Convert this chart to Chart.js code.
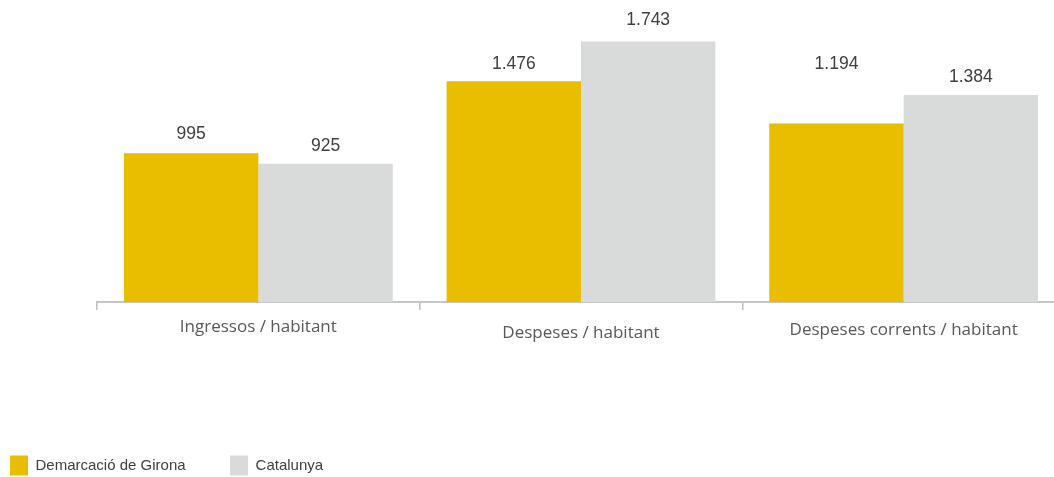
<!DOCTYPE html>
<html>
<head>
<meta charset="utf-8">
<script src="https://cdn.jsdelivr.net/npm/chart.js@4"></script>
<style>
  html, body { margin: 0; padding: 0; background: #ffffff; overflow: hidden; }
  #wrap { position: absolute; left: 0; top: 0; width: 1065px; height: 477px; }
</style>
</head>
<body>
<div id="wrap"><canvas id="c" width="1065" height="477"></canvas></div>
<script>
// ---- data ----
const categories = ["Ingressos / habitant", "Despeses / habitant", "Despeses corrents / habitant"];
const seriesNames = ["Demarcació de Girona", "Catalunya"];
const gironaValues = [995, 1476, 1194];
const catalunyaValues = [925, 1743, 1384];

// ---- styles ----
const colors = ["#E9BD00", "#D9DADA"];
const labelOffsets = [[19, 17.5, 59], [17.5, 21.5, 17.5]];
const tickLineHeights = [1.294, 2.0, 1.647];
const LEG_PAD = 44.5;

function fmt(v) {
  return String(v).replace(/\B(?=(\d{3})+(?!\d))/g, ".");
}

const valueLabels = {
  id: "valueLabels",
  afterDatasetsDraw(chart) {
    const ctx = chart.ctx;
    ctx.save();
    ctx.font = "17.5px 'Liberation Sans', Arial, sans-serif";
    ctx.fillStyle = "#404040";
    ctx.textAlign = "center";
    ctx.textBaseline = "middle";
    chart.data.datasets.forEach((ds, i) => {
      const meta = chart.getDatasetMeta(i);
      meta.data.forEach((el, j) => {
        ctx.fillText(fmt(ds.data[j]), el.x, el.y - labelOffsets[i][j]);
      });
    });
    ctx.restore();
  }
};

const legendPlace = {
  id: "legendPlace",
  afterLayout(chart) {
    const lg = chart.legend;
    if (lg) {
      lg.left = 10 - LEG_PAD;
      lg.top = 455.5 - LEG_PAD;
    }
  }
};

new Chart(document.getElementById("c"), {
  type: "bar",
  data: {
    labels: categories,
    datasets: [
      { label: seriesNames[0], data: gironaValues, backgroundColor: colors[0], borderWidth: 0 },
      { label: seriesNames[1], data: catalunyaValues, backgroundColor: colors[1], borderWidth: 0 }
    ]
  },
  options: {
    responsive: false,
    animation: false,
    devicePixelRatio: 1,
    layout: { padding: { top: 3, right: 0, bottom: 0, left: 0 } },
    datasets: { bar: { categoryPercentage: 0.833, barPercentage: 1.0 } },
    plugins: {
      tooltip: { enabled: false },
      legend: {
        position: "bottom",
        align: "start",
        maxHeight: 66,
        labels: {
          boxWidth: 18,
          boxHeight: 20,
          padding: LEG_PAD,
          color: "#404040",
          font: { family: "'Liberation Sans', Arial, sans-serif", size: 15 }
        }
      }
    },
    scales: {
      x: {
        grid: {
          display: true,
          offset: true,
          drawOnChartArea: false,
          drawTicks: true,
          tickLength: 8,
          color: "#BFBFBF",
          lineWidth: 1.5
        },
        border: { display: true, color: "#C6C6C6", width: 2 },
        ticks: {
          padding: 6,
          color: "#595959",
          maxRotation: 0,
          autoSkip: false,
          font: (ctx) => ({ family: "'Open Sans', sans-serif", size: 17, lineHeight: tickLineHeights[ctx.index] || 1.3 })
        },
        afterFit: (s) => { s.height = 109; }
      },
      y: {
        min: 0,
        max: 2000,
        display: true,
        grid: { display: false },
        border: { display: false },
        ticks: { display: false },
        afterFit: (s) => { s.width = 97; }
      }
    }
  },
  plugins: [valueLabels, legendPlace]
});
</script>
</body>
</html>
